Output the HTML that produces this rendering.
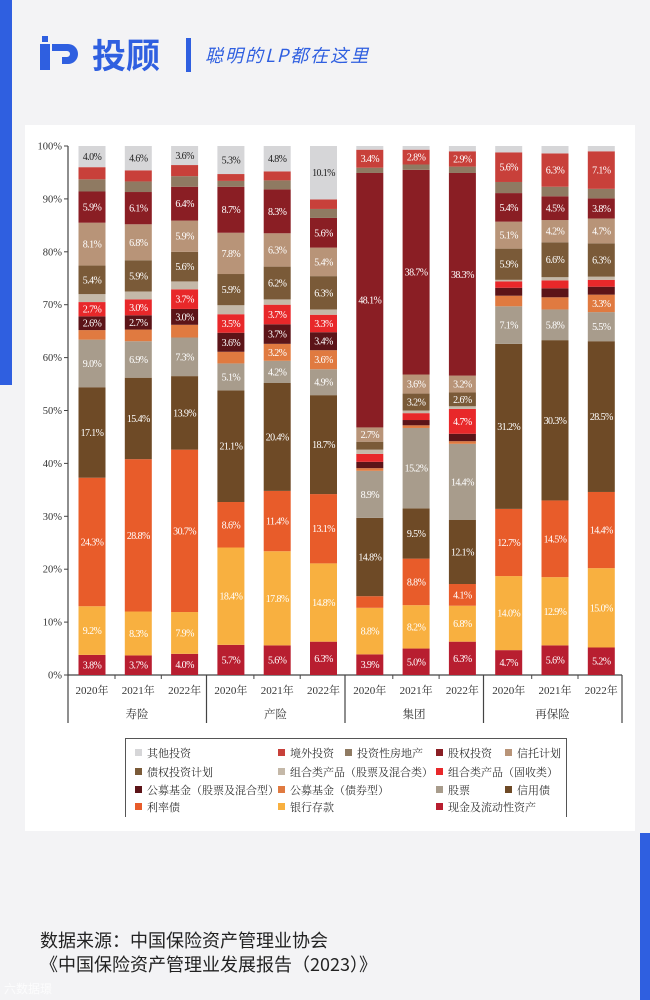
<!DOCTYPE html>
<html><head><meta charset="utf-8">
<style>
body{margin:0;width:650px;height:1000px;background:#f3f3f5;position:relative;overflow:hidden;font-family:"Liberation Sans","Noto Sans CJK SC",sans-serif}
.abs{position:absolute}
</style></head>
<body>
<div class="abs" style="left:0;top:0;width:12px;height:385px;background:#2f5fe0"></div>
<div class="abs" style="left:640px;top:833px;width:10px;height:167px;background:#2f5fe0"></div>
<div class="abs" style="left:40px;top:36px;width:44px;height:36px">
  <svg width="44" height="36" viewBox="0 0 44 36"><rect x="2" y="0" width="6" height="6" fill="#2f5fe0"/><rect x="0" y="8" width="10" height="26" fill="#2f5fe0"/><path d="M12 8h16a10 10 0 0 1 0 20h-6v-7h5a3 3 0 0 0 0-6h-15z" fill="#2f5fe0"/></svg>
</div>
<div class="abs" style="left:92px;top:32px;font-size:34px;font-weight:bold;color:#2f5fe0;font-family:'Noto Sans CJK SC',sans-serif;line-height:44px">投顾</div>
<div class="abs" style="left:186px;top:38px;width:5px;height:34px;background:#2f5fe0"></div>
<div class="abs" style="left:205px;top:42px;font-size:18px;color:#2f5fe0;font-style:italic;letter-spacing:2px;font-family:'Noto Sans CJK SC',sans-serif">聪明的LP都在这里</div>

<div class="abs" style="left:25px;top:125px;width:610px;height:706px;background:#fff"></div>
<svg class="abs" id="chart" style="left:0;top:0" width="650" height="1000"></svg>

<div class="abs" style="left:125px;top:738px;width:440px;height:78px;border:1px solid #555;border-bottom:none;background:#fff"></div>
<div id="legend-items"></div>

<div class="abs" style="left:40px;top:928px;font-size:18px;color:#222;line-height:24px;font-family:'Noto Sans CJK SC',sans-serif">数据来源：中国保险资产管理业协会<br>《中国保险资产管理业发展报告（2023）》</div>
<div class="abs" style="left:4px;top:980px;font-size:12px;color:#fff;opacity:.8;font-family:'Noto Sans CJK SC',sans-serif">六数据璟</div>

<script>
const categories=["2020年","2021年","2022年","2020年","2021年","2022年","2020年","2021年","2022年","2020年","2021年","2022年"];
const groups=["寿险","产险","集团","再保险"];
const seriesNames=["现金及流动性资产","银行存款","利率债","信用债","股票","公募基金（债券型）","公募基金（股票及混合型）","组合类产品（固收类）","组合类产品（股票及混合类）","债权投资计划","信托计划","股权投资","投资性房地产","境外投资","其他投资"];
const seriesColors=["#b81e30","#f8b040","#e85c2a","#6e4a26","#a89c8c","#e07a40","#5c1418","#e8282a","#c4b8a8","#7a5a38","#b89478","#8a1e24","#8f7a62","#c8403a","#d6d6d8"];
const sCash=[3.8,3.7,4.0,5.7,5.6,6.3,3.9,5.0,6.3,4.7,5.6,5.2];
const sBank=[9.2,8.3,7.9,18.4,17.8,14.8,8.8,8.2,6.8,14.0,12.9,15.0];
const sRate=[24.3,28.8,30.7,8.6,11.4,13.1,2.2,8.8,4.1,12.7,14.5,14.4];
const sCredit=[17.1,15.4,13.9,21.1,20.4,18.7,14.8,9.5,12.1,31.2,30.3,28.5];
const sStock=[9.0,6.9,7.3,5.1,4.2,4.9,8.9,15.2,14.4,7.1,5.8,5.5];
const sFundBond=[1.8,2.2,2.4,2.2,3.2,3.6,0.5,0.5,0.5,2.0,2.3,3.3];
const sFundEq=[2.6,2.7,3.0,3.6,3.7,3.4,1.2,1.0,1.4,1.5,1.7,1.5];
const sPortFI=[2.7,3.0,3.7,3.5,3.7,3.3,1.5,1.3,4.7,1.2,1.5,1.3];
const sPortEq=[1.5,1.5,1.5,1.7,1.0,1.0,0.8,0.5,0.5,0.3,0.6,0.6];
const sDebtPlan=[5.4,5.9,5.6,5.9,6.2,6.3,1.5,3.2,2.6,5.9,6.6,6.3];
const sTrust=[8.1,6.8,5.9,7.8,6.3,5.4,2.7,3.6,3.2,5.1,4.2,4.7];
const sEquity=[5.9,6.1,6.4,8.7,8.3,5.6,48.1,38.7,38.3,5.4,4.5,3.8];
const sRealty=[2.3,2.0,2.0,1.1,1.7,1.7,1.0,1.0,1.2,2.1,1.8,1.8];
const sOverseas=[2.3,2.1,2.1,1.3,1.7,1.8,3.4,2.8,2.9,5.6,6.3,7.1];
const sOther=[4.0,4.6,3.6,5.3,4.8,10.1,0.7,0.7,1.0,1.2,1.4,1.0];
const sLabelMin=2.5;
const hideLabel={5:[0,1,2,3,9,10],6:[6,7,8,9,10,11],7:[6,7,9,10,11],8:[0,1,2,3,4,5,6,7,8,9,10,11],12:[0,1,2,3,4,5,6,7,8,9,10,11],13:[0,1,2,3,4,5],14:[6,7,8,9,10,11],4:[],2:[6],9:[6],10:[]};
const yTicks=[0,10,20,30,40,50,60,70,80,90,100];
const allSeries=[sCash,sBank,sRate,sCredit,sStock,sFundBond,sFundEq,sPortFI,sPortEq,sDebtPlan,sTrust,sEquity,sRealty,sOverseas,sOther];

const NS="http://www.w3.org/2000/svg";
const svg=document.getElementById('chart');
const y0=675,y100=146,x0=68,x1=622;
const yScale=v=>y0-(y0-y100)*v/100;
const xCenter=i=>92+i*46.3;
const bw=27;
function mk(tag,attrs,parent){const e=document.createElementNS(NS,tag);for(const k in attrs)e.setAttribute(k,attrs[k]);(parent||svg).appendChild(e);return e;}

let ax=mk('line',{x1:x0,y1:y100,x2:x0,y2:y0,stroke:'#444','stroke-width':1.2});


let bx=mk('line',{x1:x0,y1:y0,x2:x1,y2:y0,stroke:'#444','stroke-width':1.2});


yTicks.forEach(t=>{
  const y=yScale(t);
  const tk=mk('line',{x1:x0-4,y1:y,x2:x0,y2:y,stroke:'#444'});
  
  
  const tx=mk('text',{x:x0-6,y:y+3.5,'text-anchor':'end','font-size':10.5,fill:'#333','font-family':'Liberation Serif, serif'});
  tx.textContent=t+'%';
  
  
});
categories.forEach((c,i)=>{
  let cum=0;
  const xc=xCenter(i);
  allSeries.forEach((s,k)=>{
    const v=s[i];
    const yt=yScale(cum+v), yb=yScale(cum);
    const r=mk('rect',{x:xc-bw/2,y:yt,width:bw,height:Math.max(0,yb-yt),fill:seriesColors[k]});
    
    
    const hidden=(hideLabel[k]||[]).includes(i);
    if(v>=sLabelMin && !hidden){
      const t=mk('text',{x:xc,y:(yt+yb)/2+3.5,'text-anchor':'middle','font-size':10,'letter-spacing':'-0.6',fill:(k===14?'#222':'#fff'),'font-family':'Liberation Serif, serif'});
      t.textContent=v.toFixed(1)+'%';
      
      
    }
    cum+=v;
  });
  const yl=mk('text',{x:xc,y:694,'text-anchor':'middle','font-size':11,fill:'#333','font-family':'Liberation Serif, Noto Serif CJK SC, serif'});
  yl.textContent=c;
  
  
  if(i<categories.length-1 && i%3!==2){
    const tk=mk('line',{x1:xc+23,y1:y0,x2:xc+23,y2:y0+4,stroke:'#444'});
    
    
  }
});
groups.forEach((g,j)=>{
  const xs=x0+j*138.5;
  const ln=mk('line',{x1:xs,y1:y0,x2:xs,y2:723,stroke:'#444','stroke-width':1.2});
  
  
  const gt=mk('text',{x:xs+69,y:718,'text-anchor':'middle','font-size':11.5,fill:'#333','font-family':'Noto Serif CJK SC, serif'});
  gt.textContent=g;
  
  
});
const ln=mk('line',{x1:x1,y1:y0,x2:x1,y2:723,stroke:'#444','stroke-width':1.2});



const legendLayout=[[14,135,753],[13,278,753],[12,345,753],[11,436,753],[10,505,753],
 [9,135,772],[8,278,772],[7,436,772],
 [6,135,790],[5,278,790],[4,436,790],[3,505,790],
 [2,135,807],[1,278,807],[0,436,807]];
const lg=document.getElementById('legend-items');
legendLayout.forEach(([k,x,y])=>{
  const d=document.createElement('div');
  d.className='abs';
  d.style.cssText=`left:${x}px;top:${y-8}px;font-size:11px;color:#333;white-space:nowrap;font-family:'Noto Serif CJK SC',serif;line-height:16px`;
  d.innerHTML=`<span style="display:inline-block;width:7px;height:7px;background:${seriesColors[k]};margin-right:5px;vertical-align:1px"></span>${seriesNames[k]}`;
  
  
  lg.appendChild(d);
});
</script>
</body></html>
